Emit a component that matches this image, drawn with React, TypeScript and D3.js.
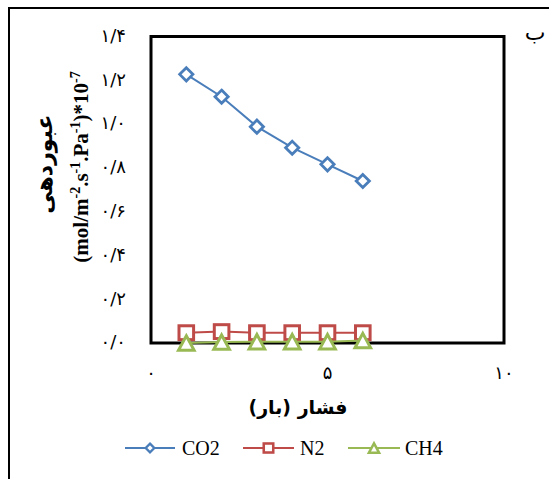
import React from "react";
import * as d3 from "d3";

const pressures = [1, 2, 3, 4, 5, 6];
const co2 = [1.227, 1.125, 0.988, 0.892, 0.816, 0.74];
const n2 = [0.047, 0.052, 0.047, 0.047, 0.047, 0.047];
const ch4 = [0.0, 0.004, 0.006, 0.006, 0.006, 0.011];
const yTicks = [0, 0.2, 0.4, 0.6, 0.8, 1.0, 1.2, 1.4];
const yTickLabels = ["۰/۰", "۰/۲", "۰/۴", "۰/۶", "۰/۸", "۱/۰", "۱/۲", "۱/۴"];
const xTicks = [0, 5, 10];
const xTickLabels = ["۰", "۵", "۱۰"];
const seriesNames = ["CO2", "N2", "CH4"];

const W = 549;
const H = 479;
const L = 151, R = 504, T = 36.5, B = 343;

const x = d3.scaleLinear().domain([0, 10]).range([L, R]);
const y = d3.scaleLinear().domain([0, 1.4]).range([B, T]);

const colors = ["#4A7EBB", "#BE4B48", "#98B954"];

const line = d3
  .line<number>()
  .x((_, i) => x(pressures[i]))
  .y((d) => y(d));

function Marker({ kind, cx, cy, color, s = 1 }: { kind: number; cx: number; cy: number; color: string; s?: number }) {
  if (kind === 0) {
    const r = 6.6 * s;
    return (
      <path
        d={`M${cx},${cy - r}L${cx + r},${cy}L${cx},${cy + r}L${cx - r},${cy}Z`}
        fill="#fff"
        stroke={color}
        strokeWidth={2.8 * Math.max(s, 0.85)}
        strokeLinejoin="miter"
      />
    );
  }
  if (kind === 1) {
    const h = 7.3 * s;
    return (
      <rect x={cx - h} y={cy - h * 0.95} width={2 * h} height={2 * h * 0.95} fill="#fff" stroke={color} strokeWidth={3 * Math.max(s, 0.85)} />
    );
  }
  const w = 7.8 * s;
  const hh = 7.2 * s;
  return (
    <path
      d={`M${cx},${cy - hh}L${cx + w},${cy + hh}L${cx - w},${cy + hh}Z`}
      fill="#fff"
      stroke={color}
      strokeWidth={3 * Math.max(s, 0.85)}
      strokeLinejoin="miter"
    />
  );
}

export default function App() {
  const series = [co2, n2, ch4];
  const latin = "'Liberation Serif', 'DejaVu Sans', serif";
  const persian = "'DejaVu Sans', sans-serif";
  const legendItems = [
    { x0: 125, x1: 175, tx: 182 },
    { x0: 243, x1: 294, tx: 300 },
    { x0: 348, x1: 400, tx: 405 },
  ];
  return (
    <svg width={W} height={H} style={{ display: "block", position: "absolute", left: 0, top: 0 }}>
      <rect x={0} y={0} width={W} height={H} fill="#fff" />
      <rect x={9} y={8} width={700} height={700} fill="none" stroke="#000" strokeWidth={2} />
      <text x={535} y={40} fontFamily={persian} fontSize={22} textAnchor="middle">ب</text>

      <rect x={L} y={T} width={R - L} height={B - T} fill="none" stroke="#000" strokeWidth={3} />

      {yTicks.map((t, i) => (
        <text key={"y" + i} x={126} y={y(t)} dy="0.3em" textAnchor="end" fontFamily={persian} fontSize={18}>
          {yTickLabels[i]}
        </text>
      ))}
      {xTicks.map((t, i) => (
        <text key={"x" + i} x={x(t)} y={374} dy="0.3em" textAnchor="middle" fontFamily={persian} fontSize={18}>
          {xTickLabels[i]}
        </text>
      ))}

      <text x={298} y={414} textAnchor="middle" direction="rtl" fontFamily={persian} fontWeight="bold" fontSize={19}>
        فشار (بار)
      </text>

      <g transform="translate(52,164) rotate(-90)">
        <text x={0} y={0} textAnchor="middle" direction="rtl" fontFamily={persian} fontWeight="bold" fontSize={22}>
          عبوردهی
        </text>
      </g>
      <g transform="translate(88,167) rotate(-90)">
        <text x={0} y={0} textAnchor="middle" fontFamily={latin} fontWeight="bold" fontSize={21}>
          <tspan>(mol/m</tspan>
          <tspan fontSize={14} dy={-8}>-2</tspan>
          <tspan dy={8}>.s</tspan>
          <tspan fontSize={14} dy={-8}>-1</tspan>
          <tspan dy={8}>.Pa</tspan>
          <tspan fontSize={14} dy={-8}>-1</tspan>
          <tspan dy={8}>)*10</tspan>
          <tspan fontSize={14} dy={-8}>-7</tspan>
        </text>
      </g>

      {series.map((vals, k) => (
        <g key={"s" + k}>
          <path d={line(vals) || ""} fill="none" stroke={colors[k]} strokeWidth={2} />
          {vals.map((v, i) => (
            <Marker key={i} kind={k} cx={x(pressures[i])} cy={y(v)} color={colors[k]} />
          ))}
        </g>
      ))}

      {legendItems.map((it, k) => (
        <g key={"l" + k}>
          <line x1={it.x0} x2={it.x1} y1={448} y2={448} stroke={colors[k]} strokeWidth={2} />
          <Marker kind={k} cx={(it.x0 + it.x1) / 2} cy={448} color={colors[k]} s={0.65} />
          <text x={it.tx} y={448} dy="0.35em" fontFamily={latin} fontSize={20}>
            {seriesNames[k]}
          </text>
        </g>
      ))}
    </svg>
  );
}
